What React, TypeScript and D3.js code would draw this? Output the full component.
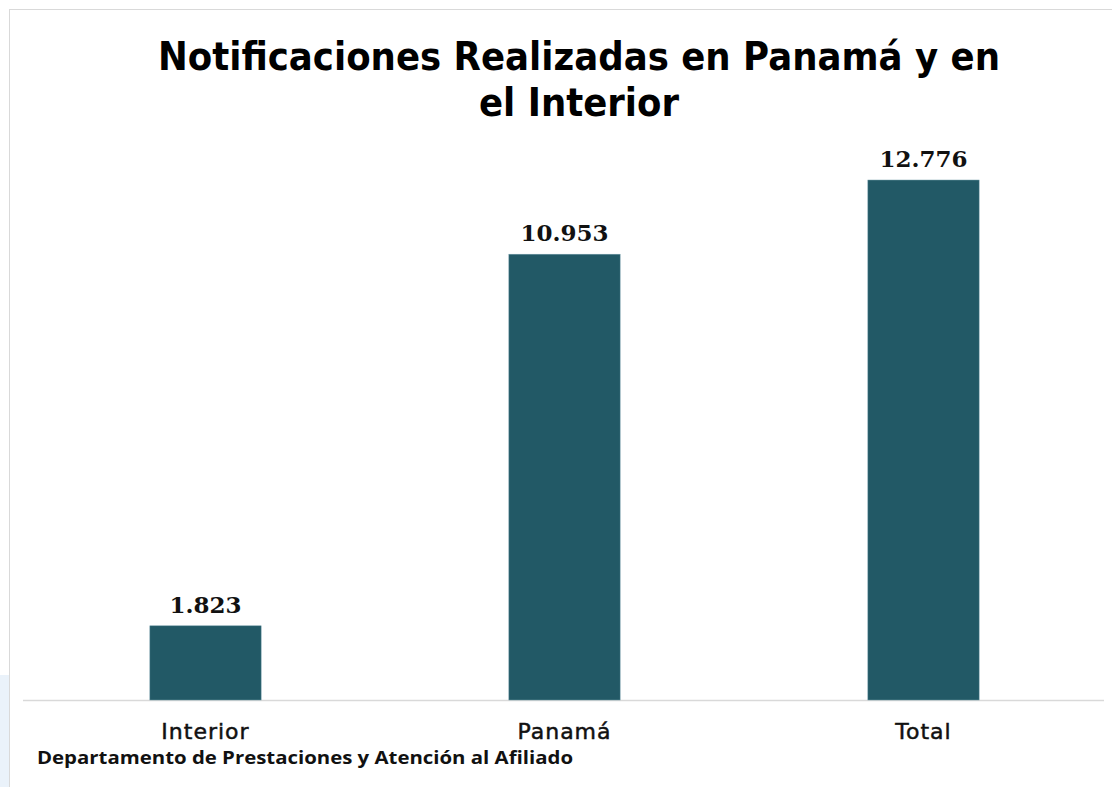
import React from "react";
import * as d3 from "d3";

const categories = ["Interior", "Panamá", "Total"];
const values = [1823, 10953, 12776];
const valueLabels = ["1.823", "10.953", "12.776"];
const titleLines = ["Notificaciones Realizadas en Panamá y en", "el Interior"];
const footer = "Departamento de Prestaciones y Atención al Afiliado";

export default function App() {
  const W = 1112, H = 787;
  const x = d3.scaleBand<string>().domain(categories).range([26, 1103]).paddingInner(0.69).paddingOuter(0.345);
  const y = d3.scaleLinear().domain([0, 14000]).range([700, 700 - 14000 * 0.0407]);
  const barColor = "#225966";
  const titleWidths = [842, 200];
  return (
    <svg width={W} height={H} style={{ position: "absolute", left: 0, top: 0, background: "#fff" }}>
      <rect x={0} y={0} width={W} height={H} fill="#fff" />
      <rect x={0} y={675} width={9} height={112} fill="#eaf2fa" />
      <line x1={9} y1={9.5} x2={W} y2={9.5} stroke="#d9d9d9" strokeWidth={1} />
      <line x1={9.5} y1={9} x2={9.5} y2={H} stroke="#d9d9d9" strokeWidth={1} />
      {titleLines.map((t, i) => (
        <text key={i} x={579} y={70 + i * 46} textAnchor="middle" fontFamily="DejaVu Sans" fontWeight="bold" fontSize={39}
          textLength={titleWidths[i]} lengthAdjust="spacingAndGlyphs" fill="#000">{t}</text>
      ))}
      <line x1={23} x2={1104} y1={y(0) + 0.5} y2={y(0) + 0.5} stroke="#d9d9d9" strokeWidth={1.5} />
      {categories.map((c, i) => (
        <g key={c}>
          <rect x={x(c)} y={y(values[i])} width={x.bandwidth()} height={y(0) - y(values[i])} fill={barColor} stroke="#6f9aa6" strokeWidth={0.5} />
          <text x={x(c)! + x.bandwidth() / 2} y={y(values[i]) - 13} textAnchor="middle" fontFamily="DejaVu Serif" fontWeight="bold" fontSize={23} fill="#111">{valueLabels[i]}</text>
          <text x={x(c)! + x.bandwidth() / 2} y={739} textAnchor="middle" fontFamily="DejaVu Sans" fontSize={22} letterSpacing={1} fill="#111" stroke="#111" strokeWidth={0.5}>{c}</text>
        </g>
      ))}
      <text x={37} y={764} fontFamily="Open Sans" fontWeight="bold" fontSize={17} textLength={536} lengthAdjust="spacingAndGlyphs" fill="#111">{footer}</text>
    </svg>
  );
}
